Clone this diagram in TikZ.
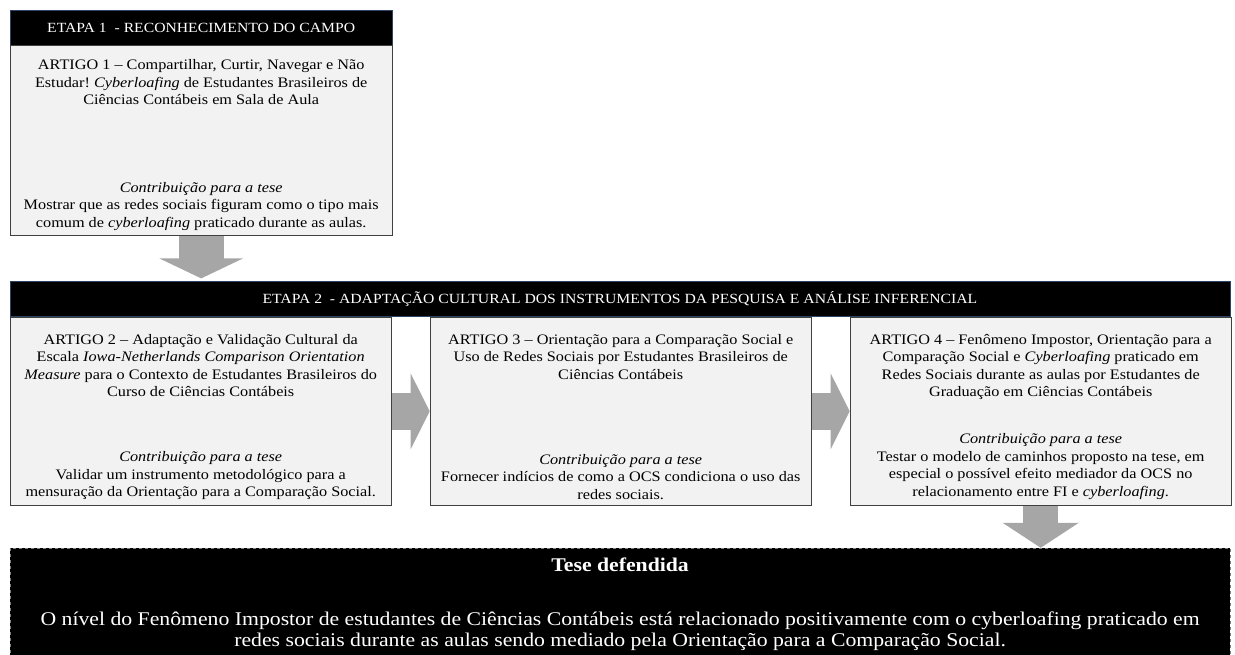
\documentclass[tikz,border=0pt]{standalone}
\usepackage{fontspec}
\setmainfont{Liberation Serif}[FakeStretch=1.12]
\usetikzlibrary{arrows.meta, positioning}
\definecolor{boxfill}{HTML}{F2F2F2}
\definecolor{boxline}{HTML}{404040}
\definecolor{headline}{HTML}{2E4466}
\definecolor{setacor}{HTML}{A6A6A6}
\frenchspacing

\begin{document}
\begin{tikzpicture}[x=1pt,y=1pt,node distance=0pt,
      etapa/.style={fill=black,draw=headline,text=white,minimum height=35pt,
        font=\fontsize{14}{16}\selectfont},
      artigo/.style={fill=boxfill,draw=boxline,line width=1pt,minimum width=381pt,minimum height=188pt},
      texto/.style={align=center,inner sep=0pt,font=\fontsize{14.5}{17.5}\selectfont},
      tese/.style={fill=black,draw=gray,dashed,line width=0.8pt,minimum width=1220pt,minimum height=110pt},
      tesetexto/.style={align=center,inner sep=0pt,text=white,font=\fontsize{19.4}{21}\selectfont},
      seta/.style={draw=setacor,line width=37pt,-{Triangle[length=19pt,width=75pt]}}]
      \useasboundingbox (0,0) rectangle (1235,-655);
      \node[etapa, minimum width=382pt, anchor=north west] (e_1) at (10,-10) {ETAPA 1\ \ - RECONHECIMENTO DO CAMPO};
      \node[artigo, minimum width=382pt, minimum height=190pt, below=of e_1] (a_1) {};
      \node[etapa, minimum width=1220pt, below=45pt of a_1.south west, anchor=north west] (e_2)
        {ETAPA 2\ \ - ADAPTAÇÃO CULTURAL DOS INSTRUMENTOS DA PESQUISA E ANÁLISE INFERENCIAL};
      \node[artigo, below=of e_2.south west, anchor=north west] (a_2) {};
      \node[artigo, right=38pt of a_2] (a_3) {};
      \node[artigo, right=38pt of a_3] (a_4) {};
      \node[tese, below=42pt of a_2.south west, anchor=north west] (t) {};

      \node[texto, below=14pt of a_1.north] (a_1t) {ARTIGO 1 – Compartilhar, Curtir, Navegar e Não\\
        Estudar! \textit{Cyberloafing} de Estudantes Brasileiros de\\Ciências Contábeis em Sala de Aula};
      \node[texto, above=6pt of a_1.south] (a_1c) {\textit{Contribuição para a tese}\\
        Mostrar que as redes sociais figuram como o tipo mais\\comum de \textit{cyberloafing} praticado durante as aulas.};
      \node[texto, below=17pt of a_2.north] (a_2t) {ARTIGO 2 – Adaptação e Validação Cultural da\\
        Escala \textit{Iowa-Netherlands Comparison Orientation}\\
        \textit{Measure} para o Contexto de Estudantes Brasileiros do\\Curso de Ciências Contábeis};
      \node[texto, above=6pt of a_2.south] (a_2c) {\textit{Contribuição para a tese}\\
        Validar um instrumento metodológico para a\\mensuração da Orientação para a Comparação Social.};
      \node[texto, below=17pt of a_3.north] (a_3t) {ARTIGO 3 – Orientação para a Comparação Social e\\
        Uso de Redes Sociais por Estudantes Brasileiros de\\Ciências Contábeis};
      \node[texto, above=6pt of a_3.south] (a_3c) {\textit{Contribuição para a tese}\\
        Fornecer indícios de como a OCS condiciona o uso das\\redes sociais.};
      \node[texto, below=17pt of a_4.north] (a_4t) {ARTIGO 4 – Fenômeno Impostor, Orientação para a\\
        Comparação Social e \textit{Cyberloafing} praticado em\\
        Redes Sociais durante as aulas por Estudantes de\\Graduação em Ciências Contábeis};
      \node[texto, above=6pt of a_4.south] (a_4c) {\textit{Contribuição para a tese}\\
        Testar o modelo de caminhos proposto na tese, em\\especial o possível efeito mediador da OCS no\\
        relacionamento entre FI e \textit{cyberloafing}.};
      \node[tesetexto, below=10pt of t.north] (t_t) {\textbf{Tese defendida}};
      \node[tesetexto, above=8pt of t.south] (t_c) {O nível do Fenômeno Impostor de estudantes de Ciências Contábeis
        está relacionado positivamente com o cyberloafing praticado em\\
        redes sociais durante as aulas sendo mediado pela Orientação para a Comparação Social.};

      \draw[seta, line width=45pt, -{Triangle[length=20pt,width=83pt]}, shorten >=3pt]
        (a_1.south) -- (a_1.south |- e_2.north);
      \draw[seta] (a_2) -- (a_3);
      \draw[seta] (a_3) -- (a_4);
      \draw[seta, line width=35pt, -{Triangle[length=25pt,width=75pt]}] (a_4) -- (a_4 |- t.north);
    \end{tikzpicture}
\end{document}
